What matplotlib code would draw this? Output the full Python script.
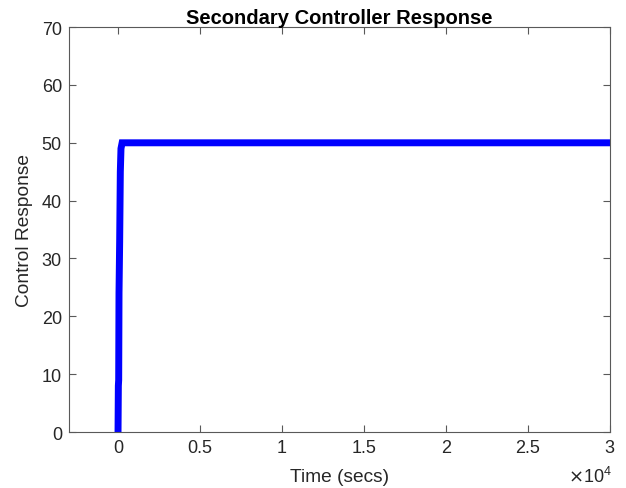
import numpy as np
import matplotlib.pyplot as plt
from matplotlib.ticker import FuncFormatter

plt.rcParams['font.family'] = ['Liberation Sans', 'DejaVu Sans']

# step response data (time in secs, control output)
time = [0, 20, 40, 60, 100, 140, 180, 250, 30000]
response = [0, 8, 9, 24, 33, 45, 49, 50, 50]

xticks = [0, 5000, 10000, 15000, 20000, 25000, 30000]
yticks = [0, 10, 20, 30, 40, 50, 60, 70]
scale = 1e4

fig = plt.figure(figsize=(6.26, 4.89), dpi=100)
ax = fig.add_axes([0.110, 0.1145, 0.864, 0.828])

ax.plot(time, response, color=(0, 0, 1), linewidth=5, solid_joinstyle='miter')

ax.set_xlim(-3000, 30000)
ax.set_ylim(0, 70)
ax.set_xticks(xticks)
ax.set_yticks(yticks)
ax.xaxis.set_major_formatter(FuncFormatter(lambda v, p: f'{v / scale:g}'))

grey = (0.15, 0.15, 0.15)
for s in ax.spines.values():
    s.set_color('0.35')
    s.set_linewidth(0.8)
ax.tick_params(direction='in', top=True, right=True, length=5, width=0.8,
               colors=grey, labelsize=13, color='0.35', pad=5)

ax.set_title('Secondary Controller Response', fontsize=14.5, fontweight='bold', color='black', pad=3)
ax.set_xlabel('Time (secs)', fontsize=13.75, color=grey, labelpad=9)
ax.set_ylabel('Control Response', fontsize=13.75, color=grey, labelpad=6)

fig.text(0.977, 0.004, r'$\times\mathregular{10^4}$', fontsize=13, color=grey, ha='right', va='bottom')

fig.savefig('out.png', dpi=100)
